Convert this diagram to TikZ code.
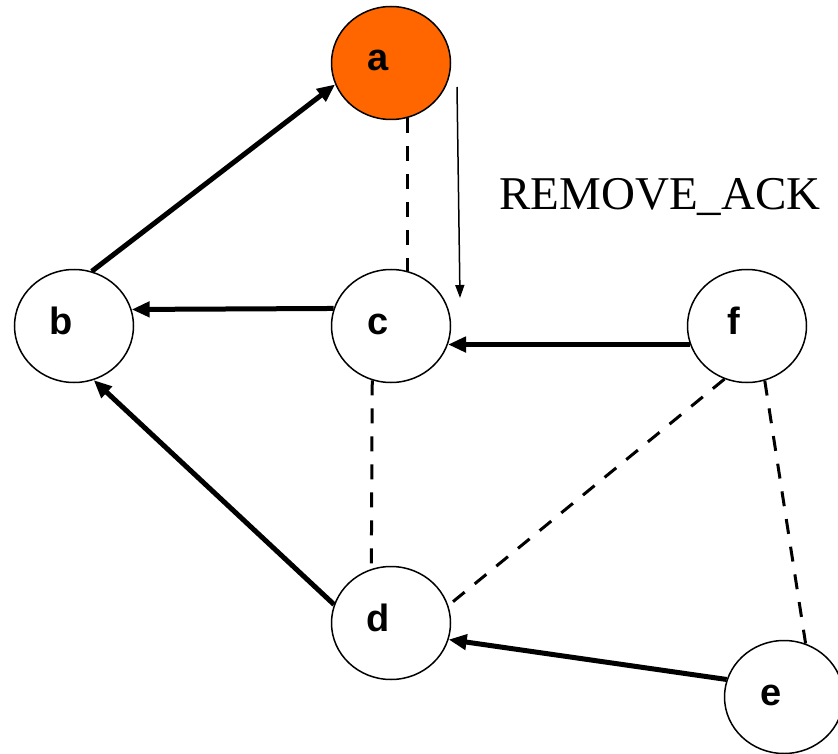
\documentclass[tikz,border=0pt]{standalone}
\usepackage{fontspec}
\setmainfont{Liberation Serif}
\setsansfont{Liberation Sans}
\usetikzlibrary{arrows.meta, shapes.geometric}
\definecolor{active}{HTML}{FF6600}

\begin{document}
\begin{tikzpicture}[
  x=1pt, y=-1pt,
  vertex/.style={ellipse, draw, line width=1.5pt, minimum width=119pt, minimum height=113pt,
                 inner sep=0pt, text height=20pt, text depth=4pt,
                 execute at begin node={\hspace*{-26pt}},
                 font=\fontsize{38}{40}\sffamily\bfseries},
  link/.style={line width=5pt, -{Triangle[length=18pt, width=15pt]}},
  bond/.style={line width=3pt, dash pattern=on 15pt off 13pt},
  msg/.style={line width=1.5pt, -{Triangle[length=13pt, width=9pt]}},
  caption/.style={font=\fontsize{47}{50}\selectfont},
]
\useasboundingbox (0,0) rectangle (838,754);

\node[vertex, fill=active] (a) at (391, 63) {a};
\node[vertex] (b) at (74, 326) {b};
\node[vertex] (c) at (391, 326) {c};
\node[vertex] (f) at (747, 326) {f};
\node[vertex] (d) at (391, 623) {d};
\node[vertex] (e) at (784, 697) {e};

\node[caption] (ack) at (660, 197) {REMOVE\_ACK};
\coordinate (ackfrom) at (457, 87);
\coordinate (ackto) at (460, 298);

\draw[link] (b.72) -- (a.201);
\draw[link] (c.163) -- (b.16);
\draw[link] (d.162) -- (b.290);
\draw[link] (f.198) -- (c.342);
\draw[link] (e.163) -- (d.344);

\draw[bond] (a.287) -- (c.73);
\draw[bond] (c.251) -- (d.110);
\draw[bond] (f.247) -- (d.17);
\draw[bond] (f.288) -- (e.68);

\draw[msg] (ackfrom) -- (ackto);

\end{tikzpicture}
\end{document}
